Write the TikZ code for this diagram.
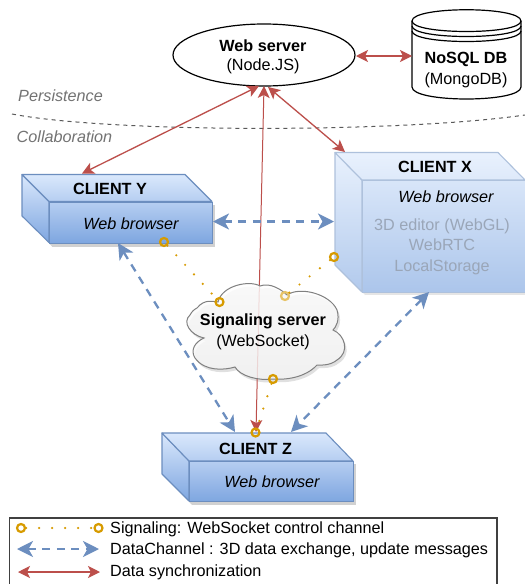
\documentclass[tikz,border=0pt]{standalone}
\usepackage{fontspec}
\setmainfont{Liberation Sans}
\usetikzlibrary{arrows.meta,positioning,calc,shapes.geometric}
\definecolor{sigc}{HTML}{D79B00}
\definecolor{datac}{HTML}{6C8EBF}
\definecolor{redc}{HTML}{BC4F4B}
\definecolor{edgec}{HTML}{6C8EBF}
\definecolor{cl}{HTML}{DAE8FC}
\definecolor{cd}{HTML}{7EA6E0}
\definecolor{xtxt}{HTML}{9AA6B8}
\tikzset{
  x=1pt,y=-1pt,
  txt/.style={font=\fontsize{16.2}{17.5}\selectfont,align=center,inner sep=0pt},
  titletxt/.style={txt,font=\fontsize{16.2}{17.5}\selectfont\bfseries},
  ittxt/.style={txt,font=\fontsize{16.2}{17.5}\selectfont\itshape},
  legendtxt/.style={font=\fontsize{16.2}{17}\selectfont,anchor=west,inner sep=0pt},
  zonetxt/.style={font=\fontsize{16.2}{17}\selectfont\itshape,text=black!55,anchor=west,inner sep=0pt},
  sync/.style={draw=redc,line width=1.3pt,{Stealth[length=12pt,width=12pt,inset=3pt]}-{Stealth[length=12pt,width=12pt,inset=3pt]}},
  syncthin/.style={draw=redc,line width=1pt,{Stealth[length=12pt,width=12pt,inset=3pt]}-{Stealth[length=12pt,width=12pt,inset=3pt]}},
  chan/.style={draw=datac,line width=2.3pt,dash pattern=on 8pt off 6.5pt,{Stealth[length=16pt,width=16pt,inset=4.5pt]}-{Stealth[length=16pt,width=16pt,inset=4.5pt]}},
  sig/.style={draw=sigc,line width=2.4pt,line cap=round,dash pattern=on 0pt off 13pt},
  ring/.style={circle,draw=sigc,line width=2.2pt,minimum size=8pt,inner sep=0pt},
  frontface/.style={draw=edgec,line width=1.1pt,top color=cd!40!cl,bottom color=cd,inner sep=0pt,rectangle},
  sideface/.style={draw=edgec,line width=1.1pt,line join=round},
  shadowfill/.style={fill=black!18},
  cloudpath/.style={insert path={(197,308) .. controls (205,298) and (214,302) .. (218,302) .. controls (222,285) and (250,280) .. (260,286) .. controls (270,282) and (282,290) .. (287,295) .. controls (300,286) and (330,294) .. (337,310) .. controls (340,320) and (336,327) .. (333,330) .. controls (345,335) and (350,352) .. (337,360) .. controls (330,366) and (320,365) .. (317,365) .. controls (305,378) and (285,380) .. (273,379) .. controls (258,381) and (240,376) .. (235,367) .. controls (225,370) and (205,372) .. (195,358) .. controls (190,350) and (195,342) .. (204,338) .. controls (190,335) and (182,322) .. (190,315) .. controls (192,311) and (195,309) .. (197,308) -- cycle}},
}
\newcommand{\boxshape}[8]{% name, x0, y0(top), frontleft, frontright, fronttop, frontbottom, backbottom
  \path[shadowfill] (#4+3,#6+3) rectangle (#5+3,#7+4);
  \path[shadowfill] (#2+2,#8) -- (#4+3,#7+4) -- (#4+20,#7) -- cycle;
  \path[sideface,top color=cl,bottom color=cd] (#2,#3) -- (#4,#6) -- (#4,#7) -- (#2,#8) -- cycle;
  \path[sideface,top color=cl,bottom color=cd!40!cl] (#2,#3) -- (#5-27,#3) -- (#5,#6) -- (#4,#6) -- cycle;
}
\begin{document}
\begin{tikzpicture}
\useasboundingbox (0,0) rectangle (525,584);
\fill[white] (0,0) rectangle (525,584);

% zones
\draw[draw=black!65,line width=1pt,dash pattern=on 4pt off 4pt] (12,114) .. controls (110,133) and (400,133) .. (525,115);
\node[zonetxt] (persist) at (18,96) {Persistence};
\node[zonetxt] (collab) at (16.5,137) {Collaboration};

% web server
\node[draw=black,line width=1.2pt,ellipse,minimum width=182pt,minimum height=62pt,inner sep=0pt,fill=white] (web) at (264,55) {};
\node[titletxt] (webt) at (263,45.5) {Web server};
\node[txt] (webs) at (263,66.5) {(Node.JS)};

% database
\path[draw=black,line width=1.2pt,fill=white] (412,21) .. controls (412,6) and (521,6) .. (521,21) -- (521,87) .. controls (521,103) and (412,103) .. (412,87) -- cycle;
\draw[line width=1.2pt] (412,21) .. controls (412,35) and (521,35) .. (521,21);
\draw[line width=1.2pt] (412,26) .. controls (412,40) and (521,40) .. (521,26);
\draw[line width=1.2pt] (412,31) .. controls (412,45) and (521,45) .. (521,31);
\node[titletxt] (dbt) at (466,59) {NoSQL DB};
\node[txt] (dbs) at (466,80) {(MongoDB)};
\coordinate (dbw) at (412,56);
\draw[sync] (356,56) -- (dbw);

% client Y
\boxshape{y}{22}{174.5}{49}{212}{201.5}{242.5}{216}
\node[frontface,minimum width=163pt,minimum height=41pt,anchor=north west] (clienty) at (49,201.5) {};
\node[titletxt] (yt) at (110,189) {CLIENT Y};
\node[ittxt] (ys) at (131,224) {Web browser};

% client Z
\boxshape{z}{162}{433}{189}{353}{461}{501}{474}
\node[frontface,minimum width=164pt,minimum height=40pt,anchor=north west] (clientz) at (189,461) {};
\node[titletxt] (zt) at (255.5,449) {CLIENT Z};
\node[ittxt] (zs) at (272,482) {Web browser};

% client X
\path[fill=black!10] (365,292) rectangle (525,295);
\path[fill=black!10] (337,265) -- (365,295) -- (385,292) -- cycle;
\path[draw=edgec!55!white,line width=1.1pt,line join=round,top color=cl!60!white,bottom color=cd!60!white] (335,152.5) -- (362,180) -- (362,292) -- (335,265) -- cycle;
\path[draw=edgec!55!white,line width=1.1pt,line join=round,top color=cl!60!white,bottom color=cd!20!cl!60!white] (335,152.5) -- (498,152.5) -- (525,180) -- (362,180) -- cycle;
\node[draw=edgec!55!white,line width=1.1pt,top color=cd!25!cl!65!white,bottom color=cd!65!white,rectangle,inner sep=0pt,minimum width=163pt,minimum height=112pt,anchor=north west] (clientx) at (362,180) {};
\node[titletxt] (xt) at (435,167) {CLIENT X};
\node[ittxt] (xs) at (446,197) {Web browser};
\node[txt,text=xtxt] (xg) at (442,246.5) {3D editor (WebGL)\\[3pt]WebRTC\\[3pt]LocalStorage};

% connection points
\coordinate (ybot) at (118,243);
\coordinate (yright) at (213,221.5);
\coordinate (ytop) at (82,173.5);
\coordinate (xleft) at (334,221.5);
\coordinate (xtop) at (345,152);
\coordinate (xbot) at (429,292);
\coordinate (zl) at (235,432);
\coordinate (zr) at (291,432);
\coordinate (zc) at (256,432);
\coordinate (webl) at (259,86);
\coordinate (webc) at (264,86);
\coordinate (webr) at (268,87);

% cloud: the vertical link shows faintly through it
\path[fill=black!12,shift={(2,3)},cloudpath];
\draw[syncthin] (webc) -- (zc);
\path[draw=black!50,line width=1pt,top color=white,bottom color=black!4,fill opacity=.8,cloudpath];
\node[titletxt] (cloudt) at (263,321.5) {Signaling server};
\node[txt] (clouds) at (263,342) {(WebSocket)};

% signaling
\node[ring] (s1) at (164,242) {};
\node[ring] (s2) at (219.5,302) {};
\node[ring] (s3) at (334,257) {};
\node[ring,draw=sigc!60!white] (s4) at (285,296) {};
\node[ring] (s5) at (273,379) {};
\node[ring] (s6) at (255.5,432.5) {};
\draw[sig] (s1) -- (s2);
\draw[sig] (s3) -- (s4);
\draw[sig] (s5) -- (s6);

% data channels
\draw[chan] (yright) -- (xleft);
\draw[chan] (ybot) -- (zl);
\draw[chan] (xbot) -- (zr);

% synchronization
\draw[sync] (webl) -- (ytop);
\draw[sync] (webr) -- (xtop);

% legend
\draw[draw=black!75,line width=1.2pt,fill=white] (9.5,518) rectangle (497,590);
\node[ring] (l1a) at (21,528) {};
\node[ring] (l1b) at (98.5,528) {};
\draw[sig] (l1a) -- (l1b);
\coordinate (l2a) at (17,549);
\coordinate (l2b) at (99,549);
\draw[chan] (l2a) -- (l2b);
\coordinate (l3a) at (18,572);
\coordinate (l3b) at (100,572);
\draw[sync] (l3a) -- (l3b);
\node[legendtxt] (lt1) at (110,529) {Signaling: WebSocket control channel};
\node[legendtxt] (lt2) at (110,550) {DataChannel : 3D data exchange, update messages};
\node[legendtxt] (lt3) at (110,572) {Data synchronization};
\end{tikzpicture}
\end{document}
